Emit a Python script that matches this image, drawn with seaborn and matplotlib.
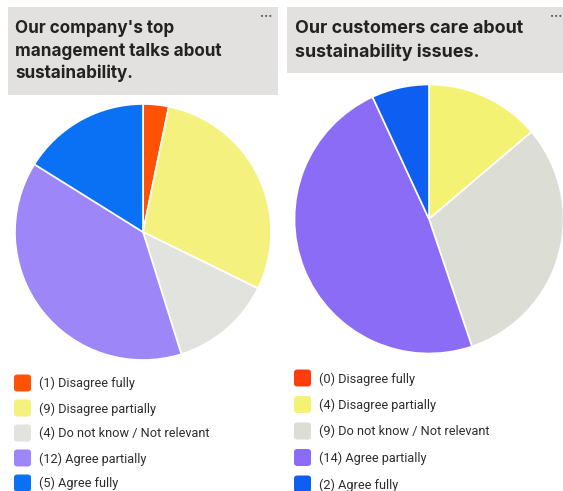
import matplotlib
matplotlib.use("Agg")
import matplotlib.pyplot as plt
from matplotlib.patches import Rectangle, FancyBboxPatch
import seaborn as sns

sns.set_theme(style="white")
plt.rcParams["font.family"] = ["Inter", "DejaVu Sans"]

# Survey answers
categories = ["Disagree fully", "Disagree partially", "Do not know / Not relevant",
              "Agree partially", "Agree fully"]
management_counts = [1, 9, 4, 12, 5]
customers_counts = [0, 4, 9, 14, 2]

management_title = ["Our company's top", "management talks about", "sustainability."]
customers_title = ["Our customers care about", "sustainability issues."]

management_colors = ["#FF5205", "#F4F17F", "#E2E3DE", "#9C86F8", "#0A71F4"]
customers_colors = ["#FF3D0C", "#F3F272", "#DCDED6", "#8A6CF6", "#0D5EF1"]

W, H = 563, 491
fig = plt.figure(figsize=(W / 100, H / 100), dpi=100)
fig.patch.set_facecolor("white")


def fx(x):
    return x / W


def fy(y):
    return 1 - y / H


def pie_axes(cx, cy, r):
    ax = fig.add_axes([fx(cx - r), fy(cy + r), 2 * r / W, 2 * r / H])
    ax.axis("off")
    return ax


def draw_panel(counts, colors, title, box, title_x, baselines, title_size, pie_geom,
               legend_x, legend_y0, legend_dy, dots_x):
    # Title card
    x0, y0, x1, y1 = box
    fig.add_artist(Rectangle((fx(x0), fy(y1)), fx(x1) - fx(x0), fy(y0) - fy(y1),
                             transform=fig.transFigure, facecolor="#E3E0E0",
                             edgecolor="none", zorder=0))
    for line, yb in zip(title, baselines):
        fig.text(fx(title_x), fy(yb), line, ha="left", va="baseline",
                 fontsize=title_size, fontweight="bold", color="#222222")
    fig.text(fx(dots_x), fy(17), "···", ha="center", va="center", fontsize=9,
             color="#555555", fontweight="bold")

    # Pie
    ax = pie_axes(*pie_geom)
    ax.pie(counts, colors=colors, startangle=90, counterclock=False, radius=1,
           wedgeprops=dict(edgecolor="white", linewidth=1.2))
    ax.set_xlim(-1, 1)
    ax.set_ylim(-1, 1)
    ax.set_aspect("equal")

    # Legend
    for i, (n, label, c) in enumerate(zip(counts, categories, colors)):
        yc = legend_y0 + i * legend_dy
        s = 17
        fig.add_artist(FancyBboxPatch((fx(legend_x), fy(yc + s / 2)), s / W, s / H,
                                      boxstyle="round,pad=0,rounding_size=0.006",
                                      transform=fig.transFigure, facecolor=c,
                                      edgecolor="none"))
        fig.text(fx(legend_x + s + 8), fy(yc + 4.5), f"({n}) {label}", ha="left",
                 va="baseline", fontsize=9.2, color="#2E2E2E", family="Roboto")


draw_panel(management_counts, management_colors, management_title,
           box=(8, 7, 278, 95), title_x=15, baselines=(33, 56, 78), title_size=12.3,
           pie_geom=(143, 232, 128), legend_x=14, legend_y0=383, legend_dy=25,
           dots_x=266)
draw_panel(customers_counts, customers_colors, customers_title,
           box=(287, 7, 563, 73), title_x=295, baselines=(33, 57), title_size=12.9,
           pie_geom=(429, 219, 134.5), legend_x=294, legend_y0=378, legend_dy=26.5,
           dots_x=556)

fig.savefig("out.png", dpi=100, facecolor="white")
